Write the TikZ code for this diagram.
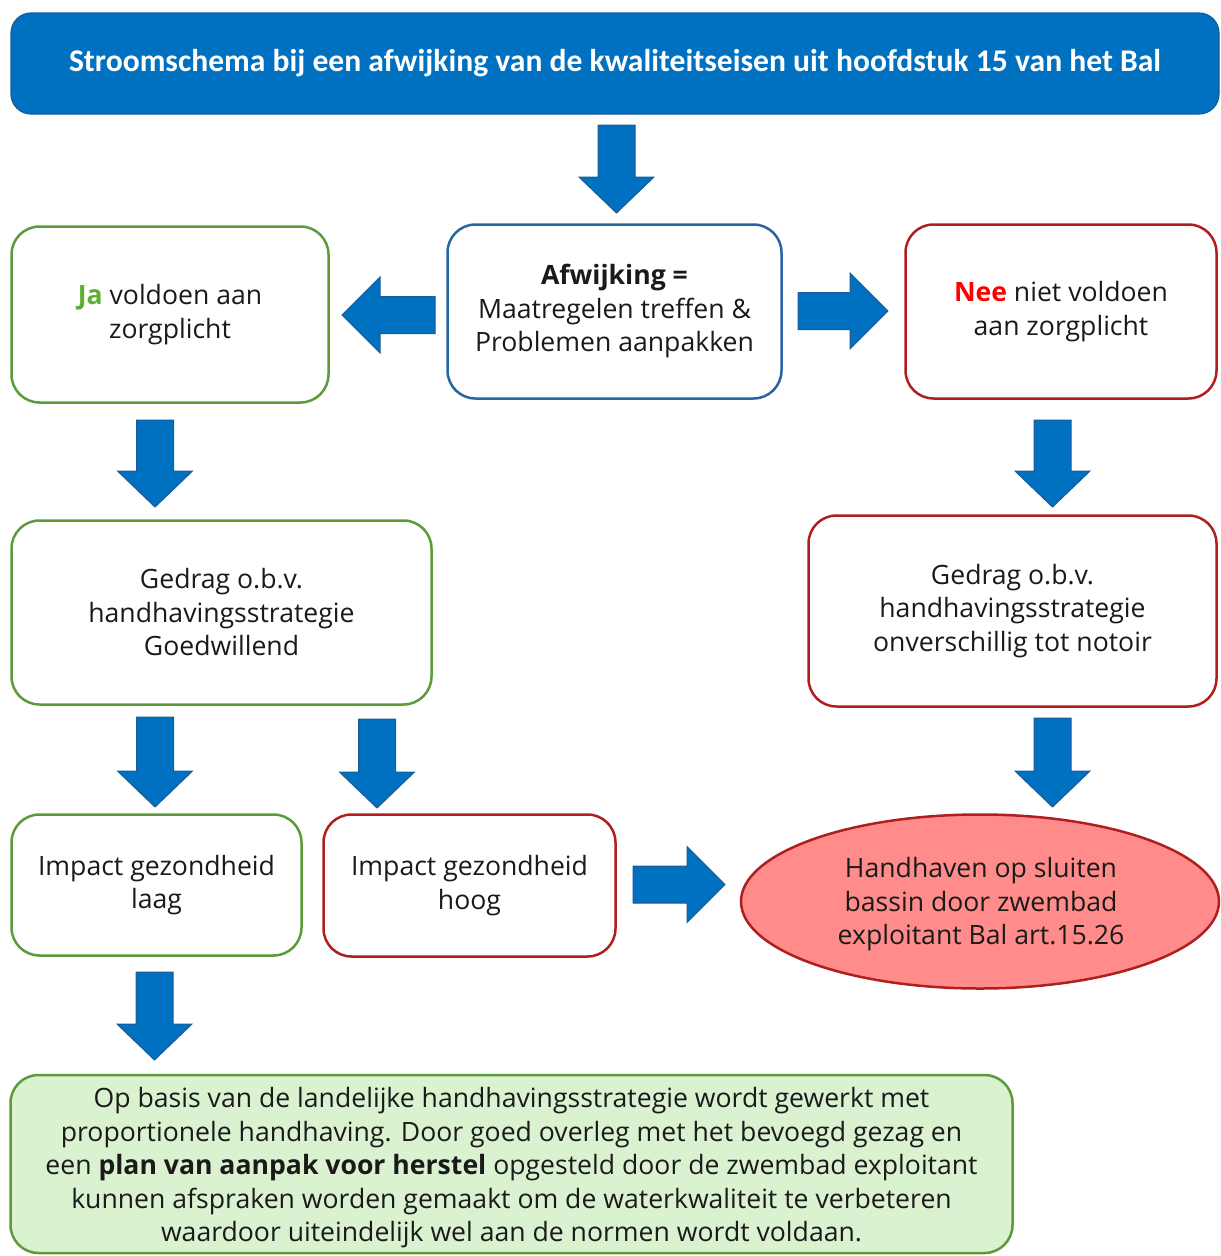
\documentclass[tikz,border=0pt]{standalone}
\usepackage{fontspec}
\setmainfont{Open Sans}
\newfontfamily\titlefont{Carlito}
\usetikzlibrary{shapes.geometric}
\definecolor{blfill}{HTML}{0070C0}
\definecolor{bledge}{HTML}{1B5A96}
\definecolor{blborder}{HTML}{2A65A3}
\definecolor{grborder}{HTML}{5B9B3A}
\definecolor{rdborder}{HTML}{B01E1E}
\definecolor{jagreen}{HTML}{5BB030}
\definecolor{neered}{HTML}{FF0000}
\definecolor{ellfill}{HTML}{FF8B8B}
\definecolor{botfill}{HTML}{DAF2D0}
\definecolor{txt}{HTML}{1A1A1A}
\newcommand\bodyfont{\fontsize{26.6}{33.5}\selectfont}
\newcommand\dnarrow[3]{%
  \draw[blkarrow] (#1-18.5,#2) -- (#1+18.5,#2) -- (#1+18.5,#3-36) -- (#1+37.5,#3-36)
    -- (#1,#3) -- (#1-37.5,#3-36) -- (#1-18.5,#3-36) -- cycle;}
\newcommand\rtarrow[3]{% xtail, xtip, yc
  \draw[blkarrow] (#1,#3-18.5) -- (#2-38,#3-18.5) -- (#2-38,#3-38) -- (#2,#3)
    -- (#2-38,#3+38) -- (#2-38,#3+18.5) -- (#1,#3+18.5) -- cycle;}
\newcommand\ltarrow[3]{% xtail, xtip, yc
  \draw[blkarrow] (#1,#3-18.5) -- (#2+38,#3-18.5) -- (#2+38,#3-38) -- (#2,#3)
    -- (#2+38,#3+38) -- (#2+38,#3+18.5) -- (#1,#3+18.5) -- cycle;}
\tikzset{
  blkarrow/.style={fill=blfill, draw=bledge, line width=1pt, line join=miter},
  boxbase/.style={draw, line width=2.5pt, rounded corners=28pt, fill=white,
    align=center, font=\bodyfont, text=txt, inner sep=0pt},
  bluebox/.style={boxbase, draw=blborder},
  greenbox/.style={boxbase, draw=grborder},
  redbox/.style={boxbase, draw=rdborder},
  plaintext/.style={align=center, font=\bodyfont, text=txt, inner sep=0pt},
}
\begin{document}
\begin{tikzpicture}[x=1pt,y=-1pt]
\useasboundingbox (0,0) rectangle (1221,1256);
% title
\node[fill=blfill, draw=bledge, line width=1.2pt, rounded corners=20pt,
  minimum width=1208pt, minimum height=101pt, inner sep=0pt,
  text=white, font=\titlefont\bfseries\fontsize{31.6}{36}\selectfont] (title) at (615,63.5)
  {Stroomschema bij een afwijking van de kwaliteitseisen uit hoofdstuk 15 van het Bal};
% boxes
\node[bluebox, minimum width=334pt, minimum height=174pt] (afw) at (614.5,311.5)
  {{\bfseries Afwijking =}\\Maatregelen treffen \&\\Problemen aanpakken};
\node[greenbox, minimum width=317pt, minimum height=176pt] (ja) at (170,314.5)
  {{\color{jagreen}\bfseries Ja} voldoen aan\\zorgplicht};
\node[redbox, minimum width=311pt, minimum height=174pt] (nee) at (1061,311.5)
  {{\color{neered}\bfseries Nee} niet voldoen\\aan zorgplicht};
\node[greenbox, minimum width=420pt, minimum height=184pt] (gl) at (221.5,612.5)
  {Gedrag o.b.v.\\handhavingsstrategie\\Goedwillend};
\node[redbox, minimum width=408pt, minimum height=191pt] (gr) at (1012.5,611)
  {Gedrag o.b.v.\\handhavingsstrategie\\onverschillig tot notoir};
\node[greenbox, minimum width=290pt, minimum height=141pt] (laag) at (156.5,885)
  {Impact gezondheid\\laag};
\node[redbox, minimum width=292pt, minimum height=142pt] (hoog) at (469.5,885.5)
  {Impact gezondheid\\hoog};
\node[ellipse, draw=rdborder, line width=2.5pt, fill=ellfill, inner sep=0pt,
  minimum width=478pt, minimum height=174pt] (ell) at (980,901.5) {};
\node[plaintext] (elltxt) at ([xshift=1pt,yshift=-3pt]ell.center)
  {Handhaven op sluiten\\bassin door zwembad\\exploitant Bal art.15.26};
\node[greenbox, fill=botfill, minimum width=1002pt, minimum height=178pt] (bot) at (511.5,1164) {};
\node[plaintext] (bottxt) at ([yshift=-4pt]bot.center)
  {Op basis van de landelijke handhavingsstrategie wordt gewerkt met\\
   proportionele handhaving. Door goed overleg met het bevoegd gezag en\\
   een {\bfseries plan van aanpak voor herstel} opgesteld door de zwembad exploitant\\
   kunnen afspraken worden gemaakt om de waterkwaliteit te verbeteren\\
   waardoor uiteindelijk wel aan de normen wordt voldaan.};
% block arrows
\dnarrow{616.5}{125}{213}
\ltarrow{435}{342}{315}
\rtarrow{798}{888}{311}
\dnarrow{155}{420}{507}
\dnarrow{1052.5}{420}{507}
\dnarrow{155}{717}{807}
\dnarrow{377}{719}{808}
\dnarrow{1052.5}{718}{807}
\rtarrow{633}{725}{884.5}
\dnarrow{154.5}{972}{1060}
\end{tikzpicture}
\end{document}
